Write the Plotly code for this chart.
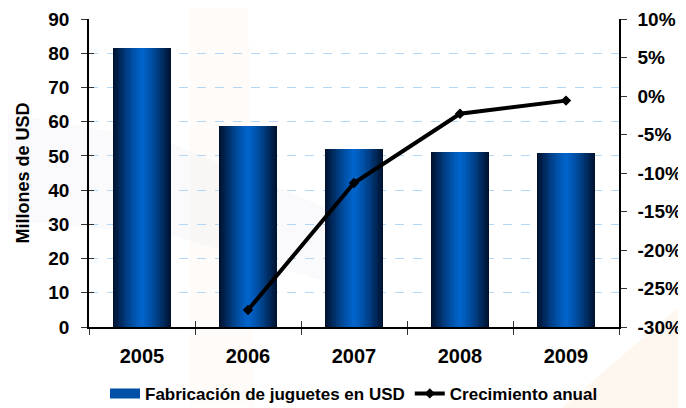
import plotly.graph_objects as go

# ---- data ----
years = ["2005", "2006", "2007", "2008", "2009"]
fabricacion = [81.4, 58.7, 52.1, 51.0, 50.7]          # millones de USD
crecimiento = [None, -27.8, -11.3, -2.3, -0.6]        # % anual
left_ticks = [0, 10, 20, 30, 40, 50, 60, 70, 80, 90]
right_ticks = [-30, -25, -20, -15, -10, -5, 0, 5, 10]
right_labels = ["-30%", "-25%", "-20%", "-15%", "-10%", "-5%", "0%", "5%", "10%"]

bar_name = "Fabricación de juguetes en USD"
line_name = "Crecimiento anual"

FONT = "Liberation Sans, Arial, sans-serif"
BAR_W = 0.55
N_LAYERS = 18
EDGE = (0, 14, 40)
CENTER = (0, 100, 204)

fig = go.Figure()

# gradient bars simulated with overlaid bars of decreasing width
for k in range(N_LAYERS):
    w = BAR_W * (1 - k / N_LAYERS)
    t = (1 - (k + 0.5) / N_LAYERS) ** 1.25
    c = tuple(int(round(CENTER[i] + (EDGE[i] - CENTER[i]) * t)) for i in range(3))
    fig.add_trace(go.Bar(
        x=years, y=fabricacion, width=w,
        marker=dict(color="rgb(%d,%d,%d)" % c, line=dict(width=0)),
        name=bar_name, showlegend=False,
        hoverinfo="skip" if k else None,
    ))

# legend entry for the bars (wide rectangular swatch)
fig.add_trace(go.Scatter(
    x=[None], y=[None], mode="lines", name=bar_name, legendrank=1,
    line=dict(color="#0050a8", width=10),
))

fig.add_trace(go.Scatter(
    x=years, y=crecimiento, yaxis="y2", name=line_name, legendrank=2,
    mode="lines+markers",
    line=dict(color="black", width=4),
    marker=dict(symbol="diamond", size=8, color="black"),
))

# invisible helper trace for crossing tick marks
fig.add_trace(go.Scatter(x=years, y=fabricacion, xaxis="x2", yaxis="y3",
                         mode="markers", marker=dict(opacity=0), showlegend=False, hoverinfo="skip"))

tickfont = dict(family=FONT, size=19, color="black", weight="bold")

# watermark-like faint background shapes
shapes = [
    dict(type="path", xref="paper", yref="paper",
         path="M 0.19 1.05 L 0.30 1.05 L 0.31 -0.26 L 0.19 -0.26 Z",
         fillcolor="rgba(245,205,170,0.08)", line=dict(width=0), layer="below"),
    dict(type="path", xref="paper", yref="paper",
         path="M -0.17 0.70 L 0.15 0.60 L 0.50 0.35 L 0.50 0.12 L 0.15 0.30 L -0.17 0.35 Z",
         fillcolor="rgba(205,205,235,0.10)", line=dict(width=0), layer="below"),
    dict(type="path", xref="paper", yref="paper",
         path="M 0.88 -0.28 L 1.15 0.12 L 1.15 -0.28 Z",
         fillcolor="rgba(240,175,100,0.10)", line=dict(width=0), layer="below"),
]

fig.update_layout(
    width=678, height=400,
    margin=dict(l=81, r=67, t=11, b=81, autoexpand=False),
    paper_bgcolor="white", plot_bgcolor="rgba(0,0,0,0)",
    barmode="overlay", bargap=0,
    shapes=shapes,
    font=dict(family=FONT, color="black"),
    xaxis=dict(
        type="category", tickson="boundaries", ticks="outside", ticklen=6,
        tickcolor="#333", tickwidth=1.2, automargin=False, ticklabelstandoff=10,
        showline=True, linecolor="black", linewidth=1.5,
        tickfont=dict(family=FONT, size=20, color="black", weight="bold"),
        showgrid=False, range=[-0.5, 4.5],
    ),
    xaxis2=dict(
        type="category", overlaying="x", matches="x", tickson="boundaries",
        ticks="inside", ticklen=6, tickcolor="#333", tickwidth=1.2, automargin=False,
        showticklabels=False, showgrid=False, showline=False, side="bottom",
    ),
    yaxis=dict(
        range=[0, 90], tickvals=left_ticks, ticks="outside", ticklen=6,
        tickcolor="#333", tickwidth=1.2, automargin=False, ticklabelstandoff=8,
        ticklabeloverflow="allow",
        showline=True, linecolor="black", linewidth=1.5,
        showgrid=True, gridcolor="#b3d7f5", griddash="dash", gridwidth=1,
        zeroline=False, tickfont=tickfont,
        title=dict(text="Millones de USD", standoff=14,
                   font=dict(family=FONT, size=18, color="black", weight="bold")),
    ),
    yaxis3=dict(
        range=[0, 90], tickvals=left_ticks, overlaying="y", ticks="inside",
        ticklen=5, tickcolor="#333", tickwidth=1.2, showticklabels=False,
        showgrid=False, showline=False, zeroline=False, automargin=False,
    ),
    yaxis2=dict(
        range=[-30, 10], tickvals=right_ticks, ticktext=right_labels,
        overlaying="y", side="right", ticks="outside", ticklen=6,
        tickcolor="#333", tickwidth=1.2, automargin=False, ticklabelstandoff=7,
        ticklabeloverflow="allow",
        showline=True, linecolor="black", linewidth=1.5,
        showgrid=False, zeroline=False, tickfont=tickfont,
    ),
    legend=dict(
        orientation="h", x=0.5, xanchor="center", y=-0.217, yanchor="middle",
        font=dict(family=FONT, size=17, color="black", weight="bold"),
        bgcolor="rgba(0,0,0,0)", traceorder="normal", itemwidth=30,
    ),
    showlegend=True,
)

fig.write_html("out.html")
